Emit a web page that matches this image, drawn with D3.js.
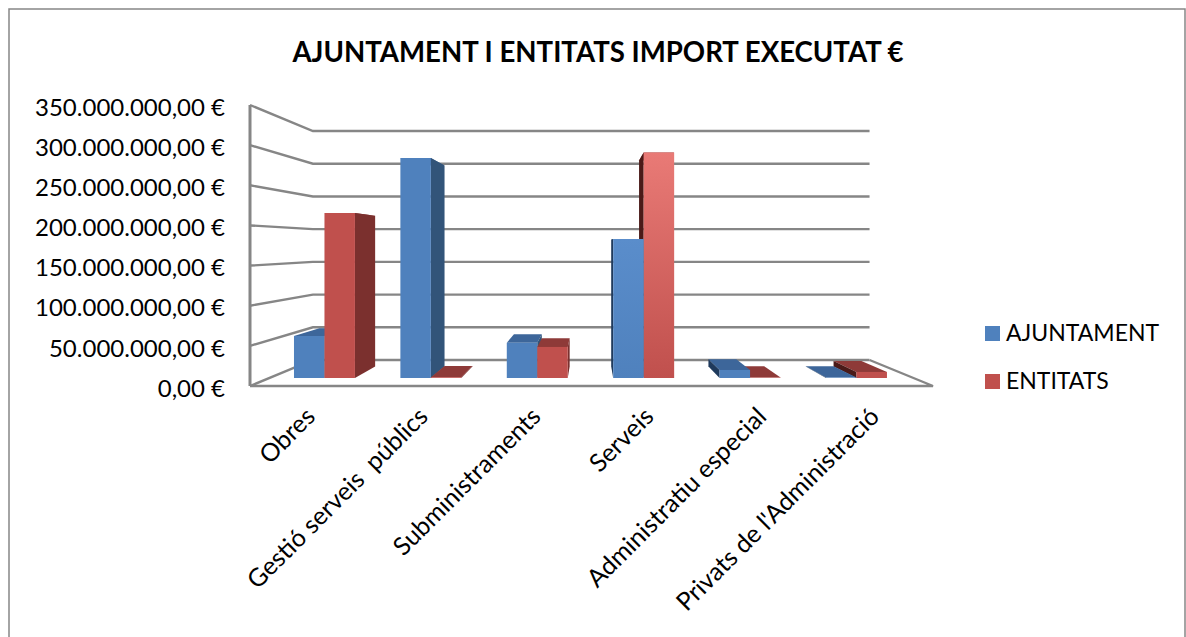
<!DOCTYPE html>
<html>
<head>
<meta charset="utf-8">
<script src="https://cdn.jsdelivr.net/npm/d3@7"></script>
<style>
html, body { margin: 0; padding: 0; background: white; overflow: hidden; }
svg { display: block; }
text { font-family: Lato, "Open Sans", sans-serif; fill: #000; white-space: pre; }
</style>
</head>
<body>
<script>
const largeur = 1186;
const hauteur = 637;

const titre = "AJUNTAMENT I ENTITATS IMPORT EXECUTAT €";
const categories = ["Obres", "Gestió serveis  públics", "Subministraments", "Serveis", "Administratiu especial", "Privats de l'Administració"];
const series = ["AJUNTAMENT", "ENTITATS"];
const ajuntament = [55400000, 290600000, 46600000, 183600000, 10600000, 500000];
const entitats = [218000000, 1000000, 41000000, 298000000, 500000, 8000000];
const graduations = [0, 50000000, 100000000, 150000000, 200000000, 250000000, 300000000, 350000000];

const bleu = { face: "#4f81bd", cote: "#325479", dessus: "#3d669a", gauche: "#1f3a5c" };
const rouge = { face: "#c0504d", cote: "#7b302e", dessus: "#8e3a38", gauche: "#4a1a18" };

const svg = d3.select("body").append("svg").attr("width", largeur).attr("height", hauteur);

// point de fuite de la perspective
const fuiteX = 590;
const fuiteY = 245.5;
const echelleFond = 0.815;
const echelleAvant = 0.943;
const echelleArriere = 0.862;

function projeter(x, y, s)
{
    return [fuiteX + (x - fuiteX) * s, fuiteY + (y - fuiteY) * s];
}

const y = d3.scaleLinear().domain([0, 350000000]).range([386, 105]);
const x = d3.scaleBand().domain(categories).range([252, 929]).paddingInner(0.427).paddingOuter(0.2135);
const xSerie = d3.scaleBand().domain(series).range([0, x.bandwidth()]);

const defs = svg.append("defs");
const degradeRouge = defs.append("linearGradient").attr("id", "degradeRouge").attr("x1", 0).attr("y1", 0).attr("x2", 0).attr("y2", 1);
degradeRouge.append("stop").attr("offset", "0%").attr("stop-color", "#e97a76");
degradeRouge.append("stop").attr("offset", "100%").attr("stop-color", "#c0504d");
const degradeBleu = defs.append("linearGradient").attr("id", "degradeBleu").attr("x1", 0).attr("y1", 0).attr("x2", 0).attr("y2", 1);
degradeBleu.append("stop").attr("offset", "0%").attr("stop-color", "#5a8dcb");
degradeBleu.append("stop").attr("offset", "100%").attr("stop-color", "#4f81bd");

// cadre
svg.append("rect")
.attr("x", 9).attr("y", 9)
.attr("width", 1176).attr("height", 640)
.attr("fill", "white")
.attr("stroke", "#868686")
.attr("stroke-width", 1.5);

svg.append("text")
.attr("x", 598).attr("y", 62)
.attr("text-anchor", "middle")
.attr("font-size", 27.6)
.attr("font-weight", 700)
.text(titre);

// murs et grille
const grille = svg.append("g").attr("fill", "none").attr("stroke", "#868686").attr("stroke-width", 2.4);
const ligne = d3.line();

graduations.forEach(function(g)
{
    grille.append("path").attr("d", ligne([
        [250, y(g)],
        projeter(250, y(g), echelleFond),
        projeter(933, y(g), echelleFond)
    ]));
});
grille.append("path").attr("d", ligne([projeter(933, 386, echelleFond), [933, 386], [250, 386]]));
grille.append("path").attr("d", ligne([[250, 105], [250, 386]])).attr("stroke-width", 3);

// axes
const axeY = d3.axisLeft(y)
.tickValues(graduations)
.tickSize(0)
.tickFormat(function(d)
{
    return d3.format(",")(d).replace(/,/g, ".") + ",00 €";
});
const gAxeY = svg.append("g").attr("transform", "translate(232,2)").call(axeY);
gAxeY.select(".domain").remove();
gAxeY.selectAll("text").attr("font-size", 24).attr("x", -7).attr("dy", "0.34em")
.style("font-family", "Lato, sans-serif");

const gX = svg.append("g");
categories.forEach(function(c)
{
    const px = x(c) + x.bandwidth() / 2 + 2;
    gX.append("text")
    .attr("transform", "translate(" + px + ",412) rotate(-45)")
    .attr("text-anchor", "end")
    .attr("font-size", 25)
    .attr("dy", "0.35em")
    .text(c);
});

// barres
function polygone(parent, points, fill)
{
    parent.append("polygon")
    .attr("points", points.map(function(p) { return p.join(","); }).join(" "))
    .attr("fill", fill);
}

function dessinerBarre(categorie, serie, valeur, couleur)
{
    const g = svg.append("g");
    const x0 = x(categorie) + xSerie(serie);
    const x1 = x0 + xSerie.bandwidth();
    const haut = y(valeur);
    const bas = y(0);

    const fa = function(px, py) { return projeter(px, py, echelleAvant); };
    const ar = function(px, py) { return projeter(px, py, echelleArriere); };

    polygone(g, [fa(x0, haut), fa(x1, haut), ar(x1, haut), ar(x0, haut)], couleur.dessus);
    if(x1 < fuiteX)
    {
        polygone(g, [fa(x1, haut), ar(x1, haut), ar(x1, bas), fa(x1, bas)], couleur.cote);
    }
    if(x0 > fuiteX)
    {
        polygone(g, [fa(x0, haut), ar(x0, haut), ar(x0, bas), fa(x0, bas)], couleur.gauche);
    }

    let fond = couleur.face;
    if(categorie == "Serveis")
    {
        fond = serie == "ENTITATS" ? "url(#degradeRouge)" : "url(#degradeBleu)";
    }
    polygone(g, [fa(x0, haut), fa(x1, haut), fa(x1, bas), fa(x0, bas)], fond);
}

categories.forEach(function(c, i)
{
    if(x(c) + x.bandwidth() / 2 < fuiteX)
    {
        dessinerBarre(c, series[0], ajuntament[i], bleu);
        dessinerBarre(c, series[1], entitats[i], rouge);
    }
    else
    {
        dessinerBarre(c, series[1], entitats[i], rouge);
        dessinerBarre(c, series[0], ajuntament[i], bleu);
    }
});

// légende
const legende = svg.append("g");
series.forEach(function(s, i)
{
    const ly = 326 + i * 48;
    legende.append("rect")
    .attr("x", 985).attr("y", ly)
    .attr("width", 15).attr("height", 15)
    .attr("fill", i == 0 ? bleu.face : rouge.face);
    legende.append("text")
    .attr("x", 1006).attr("y", ly + 15)
    .attr("font-size", 23)
    .text(s);
});
</script>
</body>
</html>
